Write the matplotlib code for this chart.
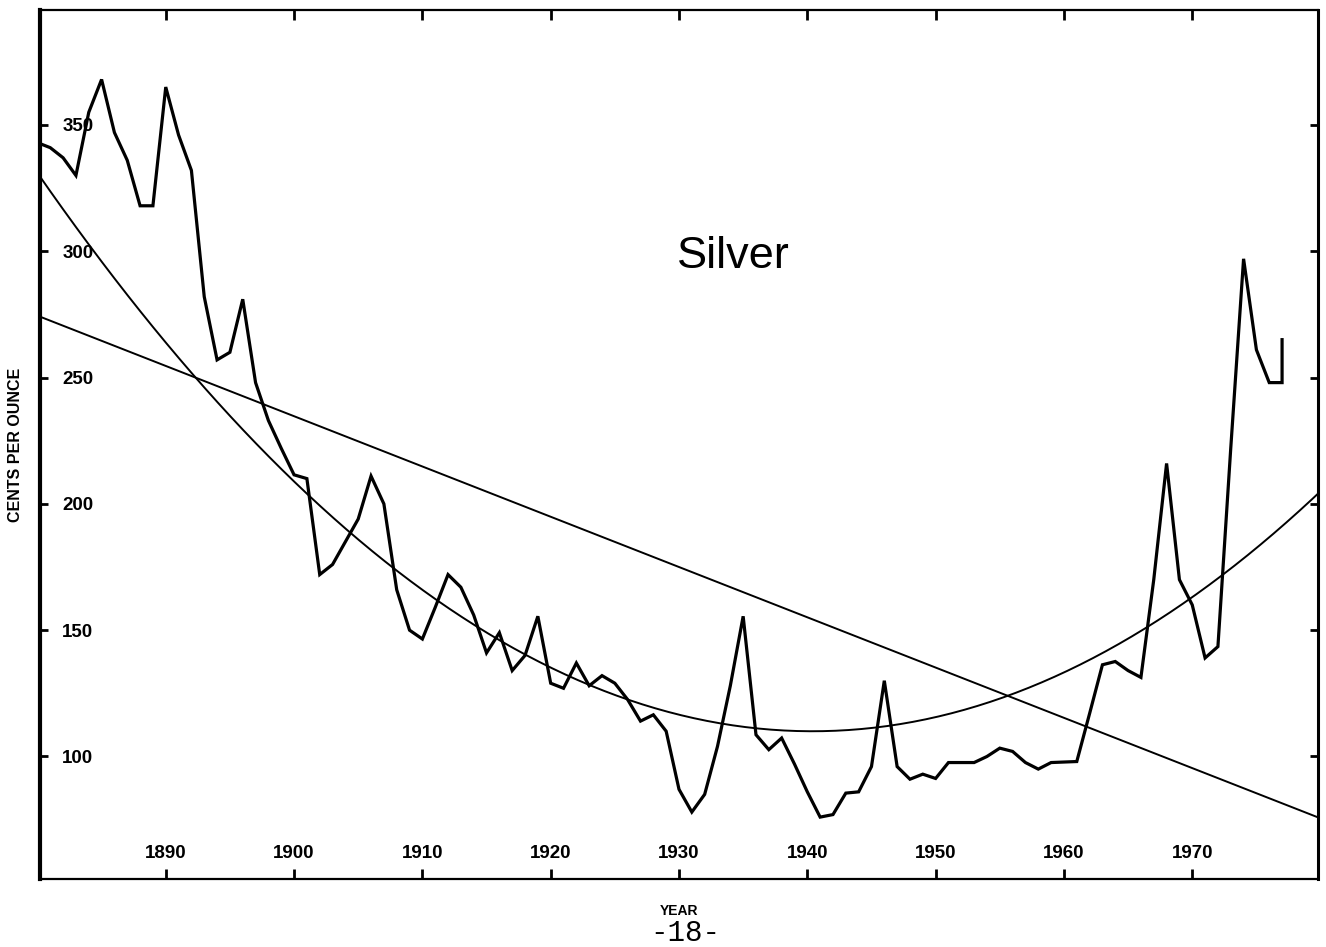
import numpy as np
import matplotlib
matplotlib.use('Agg')
import matplotlib.pyplot as plt

# Silver price, cents per ounce
years = list(range(1880, 1978))
cents = [343, 341, 337, 330, 355, 368, 347, 336, 318, 318,      # 1880-1889
         365, 346, 332, 282, 257, 260, 281, 248, 233, 222,      # 1890-1899
         211.5, 210, 172, 176, 185, 194, 211, 200, 166, 150,    # 1900-1909
         146.5, 159, 172, 167, 156, 141, 149, 134, 140, 155.5,  # 1910-1919
         129, 127, 137, 128, 132, 129, 122.5, 114, 116.5, 110,  # 1920-1929
         87, 78, 85, 104, 128, 155.5, 108.6, 102.7, 107.3, 97,  # 1930-1939
         86, 76, 77, 85.5, 86, 96, 130, 96, 91, 93,             # 1940-1949
         91.3, 97.6, 97.6, 97.6, 100, 103.3, 102, 97.6, 95, 97.6,  # 1950-1959
         97.8, 98, 117, 136.3, 137.6, 134, 131.3, 170, 216, 170,   # 1960-1969
         160, 139, 143.5, 222, 297, 261, 248, 248]                 # 1970-1977
# the trace ends with a short jump inside 1977
end_year = 1977
end_cents = 265

# trend lines
lin_years = [1880, 1980]
lin_cents = [274.5, 75.5]
quad_years = [1880, 1940, 1980]
quad_cents = [331, 110, 205]

ytick_vals = [100, 150, 200, 250, 300, 350]
xtick_vals = [1890, 1900, 1910, 1920, 1930, 1940, 1950, 1960, 1970]

sans = ['Liberation Sans', 'DejaVu Sans']

fig = plt.figure(figsize=(13.26, 9.47), dpi=100)
ax = fig.add_axes([40/1326, 68/947, 1278/1326, 869/947])

x = np.array(years + [end_year], dtype=float)
y = np.array(cents + [end_cents], dtype=float)
ax.plot(x, y, color='k', lw=2.3, solid_joinstyle='miter')

xx = np.linspace(1880, 1980, 300)
lin = np.polyfit(lin_years, lin_cents, 1)
quad = np.polyfit(quad_years, quad_cents, 2)
ax.plot(xx, np.polyval(lin, xx), color='k', lw=1.4)
ax.plot(xx, np.polyval(quad, xx), color='k', lw=1.4)

ax.set_xlim(1880.2, 1979.8)
ax.set_ylim(51.5, 395.5)
ax.set_xticks(xtick_vals)
ax.set_yticks(ytick_vals)

ax.tick_params(axis='both', direction='in', top=True, right=True,
               width=2, labelsize=13.5)
ax.tick_params(axis='x', length=7, pad=-15)
ax.tick_params(axis='y', length=6, pad=-16)
for lab in ax.get_yticklabels():
    lab.set_horizontalalignment('left')
    lab.set_family(sans)
    lab.set_weight('bold')
for lab in ax.get_xticklabels():
    lab.set_verticalalignment('baseline')
    lab.set_family(sans)
    lab.set_weight('bold')

ax.spines['left'].set_linewidth(3)
ax.spines['right'].set_linewidth(2.2)
ax.spines['top'].set_linewidth(1.6)
ax.spines['bottom'].set_linewidth(1.6)

ax.set_ylabel('CENTS PER OUNCE', family=sans, weight='bold',
              fontsize=11.5, labelpad=12)
ax.set_xlabel('YEAR', family=sans, weight='bold', fontsize=10, labelpad=18)

ax.text(1934.2, 298, 'Silver', family=sans, fontsize=32.5,
        ha='center', va='center')

fig.text(685/1326, 1 - 933/947, '-18-', family='Liberation Mono',
         fontsize=21, ha='center', va='center')

fig.savefig('out.png', dpi=100)
